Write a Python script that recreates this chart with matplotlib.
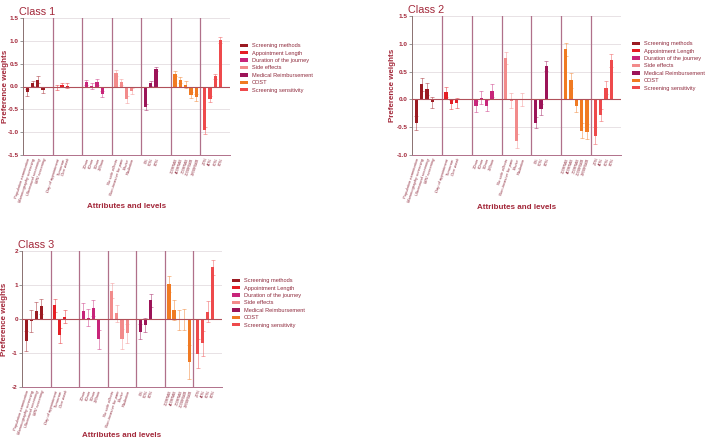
import matplotlib
matplotlib.use("Agg")
import matplotlib.pyplot as plt
from matplotlib.patches import Patch

plt.rcParams["font.family"] = ["Liberation Sans", "DejaVu Sans"]

# attributes, levels and colours
attributes = ["Screening methods", "Appointment Length", "Duration of the journey",
              "Side effects", "Medical Reimbursement", "COST", "Screening sensitivity"]
colors = ["#9b1b22", "#e51e25", "#c8257a", "#f28b8b", "#9c1458", "#f07a22", "#ee4a4c"]
levels = [
    ["Population examination", "Mammography screening", "Ultrasound screening", "MRI screening"],
    ["Day of appointment", "Tomorrow", "One week"],
    ["30min", "60min", "90min", "120min"],
    ["No side effects", "Non-invasive for pain", "Bruise", "Radiation"],
    ["0%", "50%", "80%"],
    ["100RMB", "400RMB", "700RMB", "1000RMB", "1300RMB"],
    ["20%", "40%", "60%", "80%"],
]

# preference weights (coef) and error sizes, per class
class1_coef = [[-0.13, 0.07, 0.15, -0.08], [-0.02, 0.03, 0.02], [0.09, 0.01, 0.10, -0.17],
               [0.30, 0.10, -0.28, -0.10], [-0.45, 0.07, 0.38],
               [0.28, 0.14, 0.04, -0.19, -0.24], [-0.96, -0.27, 0.22, 1.02]]
class1_err = [[0.07, 0.06, 0.07, 0.06], [0.05, 0.05, 0.06], [0.06, 0.07, 0.07, 0.07],
              [0.07, 0.07, 0.08, 0.07], [0.06, 0.05, 0.05],
              [0.06, 0.07, 0.07, 0.07, 0.07], [0.07, 0.07, 0.06, 0.06]]

class2_coef = [[-0.42, 0.27, 0.19, -0.05], [0.13, -0.09, -0.06], [-0.12, 0.03, -0.11, 0.16],
               [0.74, -0.02, -0.75, 0.0], [-0.42, -0.18, 0.60],
               [0.90, 0.34, -0.11, -0.56, -0.58], [-0.65, -0.28, 0.21, 0.70]]
class2_err = [[0.13, 0.11, 0.11, 0.10], [0.09, 0.08, 0.09], [0.10, 0.12, 0.10, 0.11],
              [0.11, 0.13, 0.12, 0.11], [0.10, 0.10, 0.09],
              [0.12, 0.13, 0.11, 0.13, 0.14], [0.15, 0.10, 0.12, 0.12]]

class3_coef = [[-0.65, -0.05, 0.25, 0.38], [0.40, -0.48, 0.07], [0.24, 0.03, 0.33, -0.60],
               [0.83, 0.17, -0.58, -0.42], [-0.37, -0.18, 0.55],
               [1.03, 0.27, -0.03, -0.02, -1.25], [-1.02, -0.72, 0.22, 1.52]]
class3_err = [[0.30, 0.32, 0.25, 0.22], [0.18, 0.22, 0.20], [0.23, 0.25, 0.23, 0.28],
              [0.22, 0.25, 0.30, 0.28], [0.21, 0.20, 0.19],
              [0.24, 0.30, 0.30, 0.31, 0.50], [0.43, 0.36, 0.30, 0.23]]

RED = "#a3283a"
LABEL = "#8e2a3c"
GROUP_W = 5.6


def panel(fig, rect, title, coef, err, ylim, yticks, ytick_labels, ylab_x, xlab_y):
    ax = fig.add_axes(rect)
    xs, names = [], []
    for g, (vals, errs) in enumerate(zip(coef, err)):
        x = [g * GROUP_W + 0.8 + i for i in range(len(vals))]
        # symmetric error bars drawn behind the bars
        ax.errorbar(x, vals, yerr=errs, fmt="none", ecolor=colors[g], alpha=0.45,
                    elinewidth=0.7, capsize=1.2, capthick=0.7, zorder=2)
        ax.bar(x, vals, width=0.62, color=colors[g], zorder=3)
        xs += x
        names += levels[g]
    for g in range(1, 7):
        ax.axvline(g * GROUP_W, color="#b0708a", lw=0.9, zorder=1)
    ax.axhline(0, color="#b0505a", lw=0.8, zorder=4)
    for t in yticks:
        ax.axhline(t, color="#e4dde0", lw=0.6, zorder=0)

    ax.set_xlim(0, 7 * GROUP_W)
    ax.set_ylim(*ylim)
    ax.set_yticks(yticks)
    ax.set_yticklabels(ytick_labels, fontsize=4.6, fontweight="bold", color=RED)
    ax.set_xticks(xs)
    ax.set_xticklabels(names, rotation=72, ha="right", rotation_mode="anchor",
                       fontsize=3.0, color=LABEL, style="italic")
    ax.tick_params(axis="x", length=0, pad=2)
    ax.tick_params(axis="y", length=2, width=0.6, color="#888888", pad=1)
    for s in ["top", "right"]:
        ax.spines[s].set_visible(False)
    ax.spines["left"].set_color("#8a7070")
    ax.spines["bottom"].set_color("#b0708a")
    ax.spines["left"].set_linewidth(0.7)
    ax.spines["bottom"].set_linewidth(0.7)

    ax.set_ylabel("Preference weights", fontsize=5.8, fontweight="bold", color=RED)
    ax.yaxis.set_label_coords(ylab_x, 0.5)
    ax.set_xlabel("Attributes and levels", fontsize=5.8, fontweight="bold", color=RED)
    ax.xaxis.set_label_coords(0.5, xlab_y)
    ax.set_title(title, loc="left", fontsize=7.8, color=RED, x=-0.02, pad=2)
    return ax


def legend(fig, x, y):
    handles = [Patch(facecolor=c, edgecolor="none") for c in colors]
    fig.legend(handles, attributes, loc="upper left", bbox_to_anchor=(x, y),
               frameon=False, fontsize=4.1, labelcolor=LABEL, handlelength=1.3,
               handleheight=0.55, handletextpad=0.8, labelspacing=0.42, borderaxespad=0)


W, H = 709, 442
fig = plt.figure(figsize=(W / 100, H / 100), dpi=100)


def rect(l, r, t, b):
    return [l / W, 1 - b / H, (r - l) / W, (b - t) / H]


ax1 = panel(fig, rect(23, 230, 18, 155), "Class 1", class1_coef, class1_err, (-1.5, 1.5),
            [-1.5, -1.0, -0.5, 0.0, 0.5, 1.0, 1.5],
            ["-1.5", "-1.0", "-0.5", "0.0", "0.5", "1.0", "1.5"], -0.07, -0.35)
ax2 = panel(fig, rect(412, 621, 16, 155), "Class 2", class2_coef, class2_err, (-1.0, 1.5),
            [-1.0, -0.5, 0.0, 0.5, 1.0, 1.5],
            ["-1.0", "-0.5", "0.0", "0.5", "1.0", "1.5"], -0.075, -0.35)
ax3 = panel(fig, rect(22, 222, 251, 387), "Class 3", class3_coef, class3_err, (-2, 2),
            [-2, -1, 0, 1, 2], ["-2", "-1", "0", "1", "2"], -0.07, -0.33)

legend(fig, 238 / W, 1 - 41 / H)
legend(fig, 630 / W, 1 - 39 / H)
legend(fig, 230 / W, 1 - 276 / H)

fig.savefig("out.png", dpi=100)
